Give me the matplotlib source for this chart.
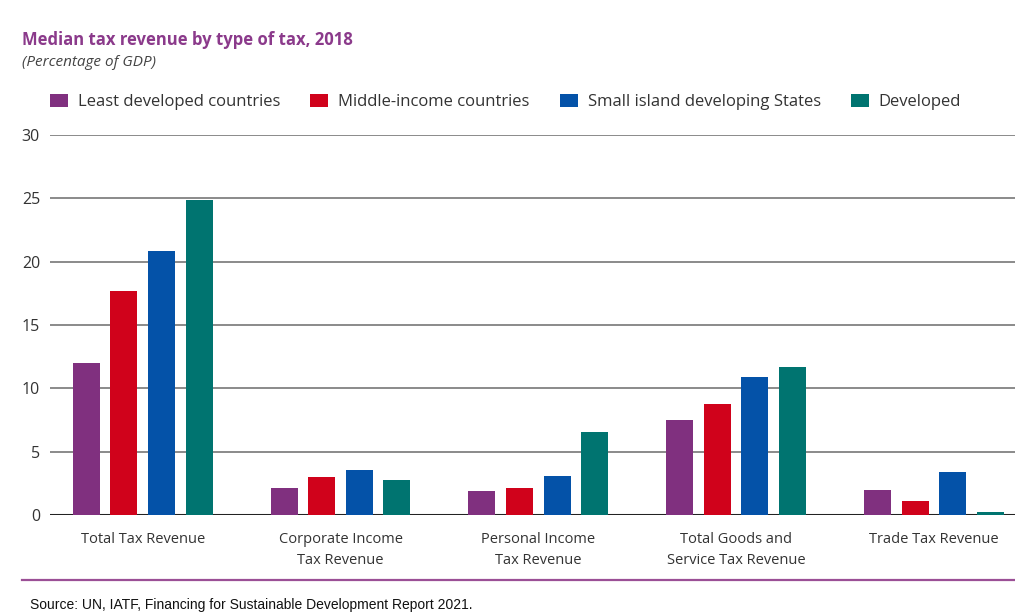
import numpy as np
import matplotlib
matplotlib.use('Agg')
import matplotlib.pyplot as plt
from matplotlib.patches import Patch
from matplotlib.lines import Line2D

plt.rcParams['font.family'] = ['Open Sans', 'DejaVu Sans']

categories = ['Total Tax Revenue', 'Corporate Income\nTax Revenue', 'Personal Income\nTax Revenue',
              'Total Goods and\nService Tax Revenue', 'Trade Tax Revenue']
groups = ['Least developed countries', 'Middle-income countries',
          'Small island developing States', 'Developed']
least_developed = [12.0, 2.1, 1.9, 7.5, 2.0]
middle_income = [17.7, 3.0, 2.1, 8.75, 1.1]
small_island = [20.8, 3.55, 3.1, 10.9, 3.4]
developed = [24.9, 2.8, 6.55, 11.7, 0.2]
colors = ['#80307f', '#d0021b', '#0452a8', '#007470']

series = [least_developed, middle_income, small_island, developed]

fig = plt.figure(figsize=(10.15, 6.15), dpi=100)
ax = fig.add_axes([0.049, 0.1626, 0.951, 0.618])

x = np.arange(len(categories))
width = 0.137
step = 0.19
for i, (vals, c) in enumerate(zip(series, colors)):
    ax.bar(x + (i - 1.5) * step, vals, width, color=c, zorder=3)

ax.set_xlim(-0.47, 4.41)
ax.set_ylim(0, 30)
ax.set_yticks([0, 5, 10, 15, 20, 25, 30])
ax.yaxis.grid(True, color='#8a8a8a', lw=1.4, zorder=1)
ax.axhline(0, color='#222222', lw=2.2, zorder=2)
for s in ax.spines.values():
    s.set_visible(False)
ax.tick_params(axis='both', length=0, colors='#333333')
ax.tick_params(axis='y', pad=7, labelsize=11.5)
ax.set_xticks(x)
ax.set_xticklabels(categories, fontsize=10.5, color='#333333', linespacing=1.55)
ax.tick_params(axis='x', pad=12)

fig.text(0.022, 1 - 40 / 615, 'Median tax revenue by type of tax, 2018', fontsize=12,
         fontweight='bold', color='#8b3a8b', va='center')
fig.text(0.022, 1 - 62 / 615, '(Percentage of GDP)', fontsize=11, style='italic',
         color='#444444', va='center')

handles = [Patch(facecolor=c, edgecolor='none') for c in colors]
fig.legend(handles, groups, loc='center left', bbox_to_anchor=(50 / 1015, 1 - 102 / 615), ncol=4,
           frameon=False, fontsize=12, handlelength=1.08, handleheight=0.8, handletextpad=0.6,
           columnspacing=1.8, borderpad=0, borderaxespad=0, labelcolor='#333333')

fig.add_artist(Line2D([0.022, 1.0], [1 - 580 / 615, 1 - 580 / 615], color='#9b4f96', lw=1.6))
fig.text(0.03, 1 - 605 / 615, 'Source: UN, IATF, Financing for Sustainable Development Report 2021.',
         fontsize=10, family='Liberation Sans', color='#111111', va='center')

fig.savefig('out.png', dpi=100)
